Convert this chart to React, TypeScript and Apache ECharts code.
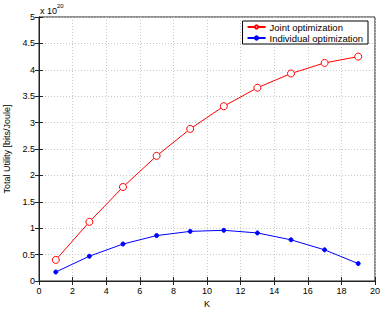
import React, { useEffect, useRef } from "react";
import * as echarts from "echarts";

const kValues = [1, 3, 5, 7, 9, 11, 13, 15, 17, 19];
const jointValues = [0.40, 1.12, 1.78, 2.37, 2.88, 3.31, 3.66, 3.93, 4.13, 4.25];
const individualValues = [0.17, 0.47, 0.70, 0.86, 0.94, 0.96, 0.91, 0.78, 0.59, 0.33];
const seriesNames = ["Joint optimization", "Individual optimization"];

const FONT = "Liberation Sans, Arial, Helvetica, sans-serif";

export default function App() {
  const ref = useRef<HTMLDivElement>(null);
  useEffect(() => {
    if (!ref.current) return;
    const chart = echarts.init(ref.current, undefined, { renderer: "svg" });
    const gridLine = { show: true, lineStyle: { color: "#c8c8c8", type: [1, 2], width: 1 } };
    const labelStyle = { color: "#000", fontSize: 9, fontFamily: FONT };
    chart.setOption({
      animation: false,
      backgroundColor: "#fff",
      grid: {
        left: 39, right: 8, top: 17, bottom: 29,
        containLabel: false,
        outerBoundsMode: "none",
        show: true, borderColor: "#222", borderWidth: 1, backgroundColor: "#fff",
      },
      legend: {
        orient: "vertical",
        right: 15,
        top: 21,
        data: seriesNames,
        backgroundColor: "#fff",
        borderColor: "#000",
        borderWidth: 1,
        borderRadius: 0,
        padding: [1, 5, 1, 4],
        itemGap: 1,
        itemWidth: 18,
        itemHeight: 4,
        textStyle: { fontSize: 9.5, fontFamily: FONT, color: "#000", padding: [0, 0, 0, -1] },
      },
      xAxis: [
        {
          type: "value",
          min: 0,
          max: 20,
          interval: 2,
          name: "K",
          nameLocation: "middle",
          nameGap: 18,
          nameTextStyle: labelStyle,
          axisLine: { show: true, lineStyle: { color: "#222" } },
          axisTick: { show: true, inside: true, length: 4, lineStyle: { color: "#222" } },
          axisLabel: { ...labelStyle, margin: 5 },
          splitLine: gridLine,
        },
        {
          type: "value",
          position: "top",
          min: 0,
          max: 20,
          interval: 2,
          axisLine: { show: true, lineStyle: { color: "#222" } },
          axisTick: { show: true, inside: true, length: 4, lineStyle: { color: "#222" } },
          axisLabel: { show: false },
          splitLine: { show: false },
        },
      ],
      yAxis: [
        {
          type: "value",
          min: 0,
          max: 5,
          interval: 0.5,
          name: "Total Utility [bits/Joule]",
          nameLocation: "middle",
          nameGap: 25,
          nameTextStyle: labelStyle,
          axisLine: { show: true, lineStyle: { color: "#222" } },
          axisTick: { show: true, inside: true, length: 4, lineStyle: { color: "#222" } },
          axisLabel: { ...labelStyle, margin: 4 },
          splitLine: gridLine,
        },
        {
          type: "value",
          position: "right",
          min: 0,
          max: 5,
          interval: 0.5,
          axisLine: { show: true, lineStyle: { color: "#222" } },
          axisTick: { show: true, inside: true, length: 4, lineStyle: { color: "#222" } },
          axisLabel: { show: false },
          splitLine: { show: false },
        },
      ],
      graphic: [
        {
          type: "text",
          left: 40,
          top: 3,
          style: {
            text: "{a|x 10}{b|20}",
            rich: {
              a: { fontSize: 9, fontFamily: FONT, fill: "#000", verticalAlign: "bottom" },
              b: { fontSize: 6, fontFamily: FONT, fill: "#000", verticalAlign: "top", padding: [0, 0, 6, 0] },
            },
          },
        },
      ],
      series: [
        {
          name: seriesNames[0],
          type: "line",
          data: kValues.map((k, i) => [k, jointValues[i]]),
          symbol: "circle",
          symbolSize: 7,
          showAllSymbol: true,
          lineStyle: { color: "#ff0000", width: 1 },
          itemStyle: { color: "#fff", borderColor: "#ff0000", borderWidth: 1 },
          z: 3,
        },
        {
          name: seriesNames[1],
          type: "line",
          data: kValues.map((k, i) => [k, individualValues[i]]),
          symbol: "circle",
          symbolSize: 4,
          showAllSymbol: true,
          lineStyle: { color: "#0000ff", width: 1 },
          itemStyle: { color: "#0000ff", borderColor: "#0000ff", borderWidth: 1 },
          z: 3,
        },
      ],
    });
    return () => chart.dispose();
  }, []);
  return <div ref={ref} style={{ width: 383, height: 310, position: "absolute", left: 0, top: 0 }} />;
}
